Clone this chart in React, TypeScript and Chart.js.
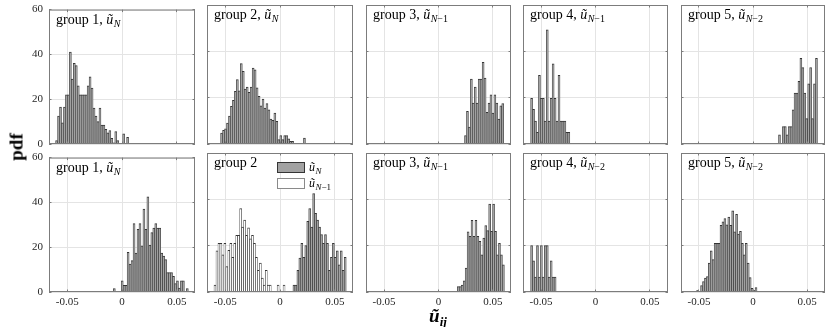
import React, { useEffect, useRef } from 'react';
import { Chart, registerables } from 'chart.js';

Chart.register(...registerables);

// ---------- axes ----------
const X_MIN = -0.0666;
const X_MAX = 0.0666;
const X_TICKS = [-0.05, 0, 0.05];
const X_TICK_LABELS = ['-0.05', '0', '0.05'];
const Y_MAX = 60;
const Y_TICKS = [0, 20, 40, 60];
const Y_TICK_LABELS = ['0', '20', '40', '60'];
const BIN_WIDTH = 0.0018;

// ---------- data (pdf heights per bin, left edge of first bin) ----------
// top row
const g1TopStart = -0.0606;
const g1TopPdf = [1.5, 12.5, 16.5, 9.5, 16.5, 22, 22, 41, 29, 36, 35, 26, 22, 22, 22, 22, 26, 30, 25, 16, 12.5, 10, 16, 8.5, 8.5, 6.5, 5, 6, 2.5, 0.5, 5.5, 1.5, 0, 0, 4.5, 0, 3];
const g2TopStart = -0.0542;
const g2TopPdf = [4.7, 5.9, 6.5, 9, 12, 16.3, 18.8, 22.7, 27.8, 23, 34.7, 31.4, 23.7, 24.6, 22.3, 24.6, 32.8, 32, 24.2, 20.6, 16.5, 19.4, 15.5, 17.4, 14.8, 10.8, 10.2, 13.4, 9.8, 1.9, 3.6, 1.9, 3.6, 3.6, 2.2, 1.2, 1.2, 0, 0, 0, 0, 0, 2.6];
const g3TopStart = 0.0239;
const g3TopPdf = [3.6, 14.1, 7.3, 28, 17.7, 24.6, 17.7, 28, 28, 35.3, 28.5, 13.7, 17.7, 21.2, 13.4, 21.2, 17.7, 10.8, 16.5, 17.4];
const g4TopStart = -0.0596;
const g4TopPdf = [19.7, 15, 9.9, 5, 29.6, 19.7, 19.7, 9.9, 49.3, 9.9, 19.7, 34.6, 19.7, 9.9, 29.6, 9.9, 9.9, 9.9, 5, 5];
const g5TopStart = 0.0236;
const g5TopPdf = [4, 0, 7.5, 7.5, 4, 7.5, 7.5, 14.7, 22, 22, 27, 37, 33, 22, 11, 26, 33, 11, 26, 37];

// bottom row
const g1BotStart = -0.0079;
const g1BotPdf = [1.5, 0, 0, 0, 5, 3, 3, 17.7, 12.5, 14, 30.5, 17.4, 28, 30.5, 20.6, 37, 28, 42.5, 21, 26.5, 28.5, 30.5, 28.5, 28.5, 17.4, 16, 14.5, 8.7, 8.7, 8.7, 7, 3.8, 5, 1.7, 5, 5, 0, 1.5];
const g2BotNm1Start = -0.0602;
const g2BotNm1Pdf = [3, 17.8, 21, 21, 16, 21, 11, 18, 21, 15, 21, 24.5, 24.5, 36, 28, 31, 24.5, 27.7, 23, 24.5, 21, 15, 9.4, 12.5, 6, 3, 9.4, 3, 3, 0, 0, 0, 3, 0, 0, 3];
const g2BotNStart = 0.0118;
const g2BotNPdf = [3, 3, 9.4, 14.6, 21, 15, 20, 30.5, 36, 28, 42.5, 34, 31, 28, 24.8, 21, 24.8, 21, 9.4, 15, 21, 15, 17.8, 11.7, 17.8, 9.4, 15];
const g3BotStart = 0.0173;
const g3BotPdf = [2.3, 2.3, 3, 4.8, 10.3, 26, 24, 30.9, 24, 30.9, 24, 21.9, 16, 23.3, 28.7, 26.5, 38, 26.2, 38, 26.2, 16, 21, 16, 11.7];
const g4BotStart = -0.0596;
const g4BotPdf = [20, 13.5, 6.4, 20, 6.4, 20, 6.4, 20, 20, 6.4, 13.5, 6.4, 6.4];
const g5BotStart = -0.0521;
const g5BotPdf = [0.7, 0, 2.8, 4.5, 6, 6.7, 12.5, 17.8, 14, 21, 21, 21, 28.8, 30.3, 31.7, 29, 32.3, 28.8, 35, 26, 33.5, 25, 26.2, 21, 16, 21, 12.5, 6.2, 1.6, 0.7, 1.9];

// titles: [group label, subscript of ũ ('' = none)]
const TOP_TITLES = [['group 1', 'N'], ['group 2', 'N'], ['group 3', 'N−1'], ['group 4', 'N−1'], ['group 5', 'N−2']];
const BOTTOM_TITLES = [['group 1', 'N'], ['group 2', ''], ['group 3', 'N−1'], ['group 4', 'N−2'], ['group 5', 'N−2']];
const LEGEND_SUBS = ['N', 'N−1'];

// ---------- styles ----------
const FONT = "'Liberation Serif', 'Times New Roman', serif";
const GRAY_FILL = '#a2a2a2';
const WHITE_FILL = '#ffffff';
const EDGE = '#353535';
const GRID = '#e4e4e4';
const BOX = '#7c7c7c';
const TICK_COLOR = '#262626';

const PANEL_LEFTS = [49, 207, 366, 523, 681];
const PANEL_WIDTHS = [146, 146, 145, 145, 144];
const ROW_TOPS = [5, 153];
const PANEL_H = 139;
const ML = 44, MT = 8, MR = 4, MB = 22;
const TICK_LEN = 2.5;

type Series = { start: number; pdf: number[]; fill: string; edge: string };
type PanelSpec = { title: string[]; series: Series[]; legend?: boolean };

const gray = (start: number, pdf: number[]): Series => ({ start, pdf, fill: GRAY_FILL, edge: EDGE });

const PANELS: PanelSpec[][] = [
  [
    { title: TOP_TITLES[0], series: [gray(g1TopStart, g1TopPdf)] },
    { title: TOP_TITLES[1], series: [gray(g2TopStart, g2TopPdf)] },
    { title: TOP_TITLES[2], series: [gray(g3TopStart, g3TopPdf)] },
    { title: TOP_TITLES[3], series: [gray(g4TopStart, g4TopPdf)] },
    { title: TOP_TITLES[4], series: [gray(g5TopStart, g5TopPdf)] },
  ],
  [
    { title: BOTTOM_TITLES[0], series: [gray(g1BotStart, g1BotPdf)] },
    {
      title: BOTTOM_TITLES[1],
      legend: true,
      series: [
        gray(g2BotNStart, g2BotNPdf),
        { start: g2BotNm1Start, pdf: g2BotNm1Pdf, fill: WHITE_FILL, edge: EDGE },
      ],
    },
    { title: BOTTOM_TITLES[2], series: [gray(g3BotStart, g3BotPdf)] },
    { title: BOTTOM_TITLES[3], series: [gray(g4BotStart, g4BotPdf)] },
    { title: BOTTOM_TITLES[4], series: [gray(g5BotStart, g5BotPdf)] },
  ],
];

function alignPx(p: number) {
  return Math.round(p - 0.5) + 0.5;
}

function drawU(ctx: CanvasRenderingContext2D, x: number, y: number, sub: string, size: number) {
  ctx.font = `italic ${size}px ${FONT}`;
  ctx.fillText('ũ', x, y);
  let cx = x + ctx.measureText('ũ').width + 0.5;
  const ss = Math.round(size * 0.72);
  const sy = y + size * 0.22;
  if (!sub) return;
  ctx.font = `italic ${ss}px ${FONT}`;
  ctx.fillText(sub[0], cx, sy);
  cx += ctx.measureText(sub[0]).width;
  const rest = sub.slice(1);
  if (rest) {
    ctx.font = `${ss}px ${FONT}`;
    ctx.fillText(rest, cx, sy);
  }
}

function makePlugin(spec: PanelSpec) {
  return {
    id: 'matlabFrame',
    afterDatasetsDraw(chart: any) {
      const { ctx, chartArea: a, scales } = chart;
      ctx.save();
      ctx.strokeStyle = BOX;
      ctx.lineWidth = 1;
      ctx.beginPath();
      for (const v of X_TICKS) {
        const px = alignPx(scales.x.getPixelForValue(v));
        ctx.moveTo(px, a.bottom);
        ctx.lineTo(px, a.bottom - TICK_LEN);
        ctx.moveTo(px, a.top);
        ctx.lineTo(px, a.top + TICK_LEN);
      }
      for (const v of Y_TICKS) {
        const py = alignPx(scales.y.getPixelForValue(v));
        ctx.moveTo(a.left, py);
        ctx.lineTo(a.left + TICK_LEN, py);
        ctx.moveTo(a.right, py);
        ctx.lineTo(a.right - TICK_LEN, py);
      }
      ctx.stroke();
      ctx.strokeRect(a.left + 0.5, a.top + 0.5, a.right - a.left - 1, a.bottom - a.top - 1);
      ctx.restore();
    },
    afterDraw(chart: any) {
      const { ctx, chartArea: a } = chart;
      ctx.save();
      ctx.fillStyle = '#000';
      ctx.textBaseline = 'alphabetic';
      ctx.textAlign = 'left';
      const size = 14;
      const tx = a.left + 7;
      const ty = a.top + 14;
      ctx.font = `${size}px ${FONT}`;
      const [label, sub] = spec.title;
      const txt = sub ? label + ', ' : label;
      ctx.fillText(txt, tx, ty);
      if (sub) drawU(ctx, tx + ctx.measureText(txt).width, ty, sub, size);

      if (spec.legend) {
        const lx = a.left + 70;
        const pw = 28, ph = 11;
        const rows = [a.top + 9, a.top + 24.5];
        spec.series.forEach((s, i) => {
          const y0 = Math.round(rows[i]);
          ctx.fillStyle = s.fill;
          ctx.fillRect(lx, y0, pw, ph);
          ctx.strokeStyle = i === 0 ? EDGE : '#8a8a8a';
          ctx.lineWidth = 1;
          ctx.strokeRect(lx + 0.5, y0 + 0.5, pw - 1, ph - 1);
          ctx.fillStyle = '#000';
          drawU(ctx, lx + pw + 4, y0 + 9, LEGEND_SUBS[i], 12);
        });
      }
      ctx.restore();
    },
  };
}

function Panel({ row, col }: { row: number; col: number }) {
  const ref = useRef<HTMLCanvasElement>(null);
  const spec = PANELS[row][col];
  const w = PANEL_WIDTHS[col] + ML + MR;
  const h = PANEL_H + MT + MB;
  const left = PANEL_LEFTS[col] - ML;
  const top = ROW_TOPS[row] - MT;

  useEffect(() => {
    const canvas = ref.current;
    if (!canvas) return;
    const tickFont = { family: FONT, size: 11 };
    const chart = new Chart(canvas, {
      type: 'bar',
      data: {
        datasets: spec.series.map((s) => ({
          data: s.pdf
            .map((v, i) => ({ x: s.start + (i + 0.5) * BIN_WIDTH, y: v }))
            .filter((p) => p.y > 0),
          backgroundColor: s.fill,
          borderColor: s.edge,
          borderWidth: { top: 1, left: 0.6, right: 0.6, bottom: 0 },
          grouped: false,
          barPercentage: 1,
          categoryPercentage: 1,
        })) as any,
      },
      options: {
        animation: false,
        responsive: false,
        maintainAspectRatio: false,
        events: [],
        layout: { padding: { top: MT, right: MR, left: 0, bottom: 0 } },
        plugins: { legend: { display: false }, tooltip: { enabled: false } },
        scales: {
          x: {
            type: 'linear',
            min: X_MIN,
            max: X_MAX,
            offset: false,
            afterBuildTicks: (s: any) => {
              s.ticks = X_TICKS.map((v) => ({ value: v }));
            },
            afterFit: (s: any) => {
              s.height = MB;
            },
            grid: { color: GRID, offset: false, drawTicks: false, lineWidth: 1 },
            border: { display: false },
            ticks: {
              display: row === 1,
              autoSkip: false,
              maxRotation: 0,
              padding: 4,
              color: TICK_COLOR,
              font: tickFont,
              callback: (_v: any, i: number) => X_TICK_LABELS[i],
            },
          },
          y: {
            type: 'linear',
            min: 0,
            max: Y_MAX,
            afterBuildTicks: (s: any) => {
              s.ticks = Y_TICKS.map((v) => ({ value: v }));
            },
            afterFit: (s: any) => {
              s.width = ML;
            },
            grid: { color: GRID, drawTicks: false, lineWidth: 1 },
            border: { display: false },
            ticks: {
              display: col === 0,
              padding: 6,
              color: TICK_COLOR,
              font: tickFont,
              callback: (_v: any, i: number) => Y_TICK_LABELS[i],
            },
          },
        },
      } as any,
      plugins: [makePlugin(spec)],
    });
    return () => chart.destroy();
  }, []);

  return (
    <canvas
      ref={ref}
      width={w}
      height={h}
      style={{ position: 'absolute', left, top, width: w, height: h }}
    />
  );
}

export default function App() {
  return (
    <div
      style={{
        position: 'fixed',
        left: 0,
        top: 0,
        width: 830,
        height: 327,
        background: '#fff',
        overflow: 'hidden',
      }}
    >
      {[0, 1].map((r) =>
        [0, 1, 2, 3, 4].map((c) => <Panel key={`${r}-${c}`} row={r} col={c} />)
      )}
      <div
        style={{
          position: 'absolute',
          left: 15.5,
          top: 147,
          transform: 'translate(-50%, -50%) rotate(-90deg)',
          fontFamily: FONT,
          fontWeight: 'bold',
          fontSize: 19,
          lineHeight: 1,
          color: '#000',
          whiteSpace: 'nowrap',
        }}
      >
        pdf
      </div>
      <div
        style={{
          position: 'absolute',
          left: 438,
          top: 315,
          transform: 'translate(-50%, -50%)',
          fontFamily: FONT,
          fontWeight: 'bold',
          fontStyle: 'italic',
          fontSize: 19,
          lineHeight: 1,
          color: '#000',
          whiteSpace: 'nowrap',
        }}
      >
        ũ
        <span style={{ fontSize: 13, position: 'relative', top: 4 }}>ij</span>
      </div>
    </div>
  );
}
